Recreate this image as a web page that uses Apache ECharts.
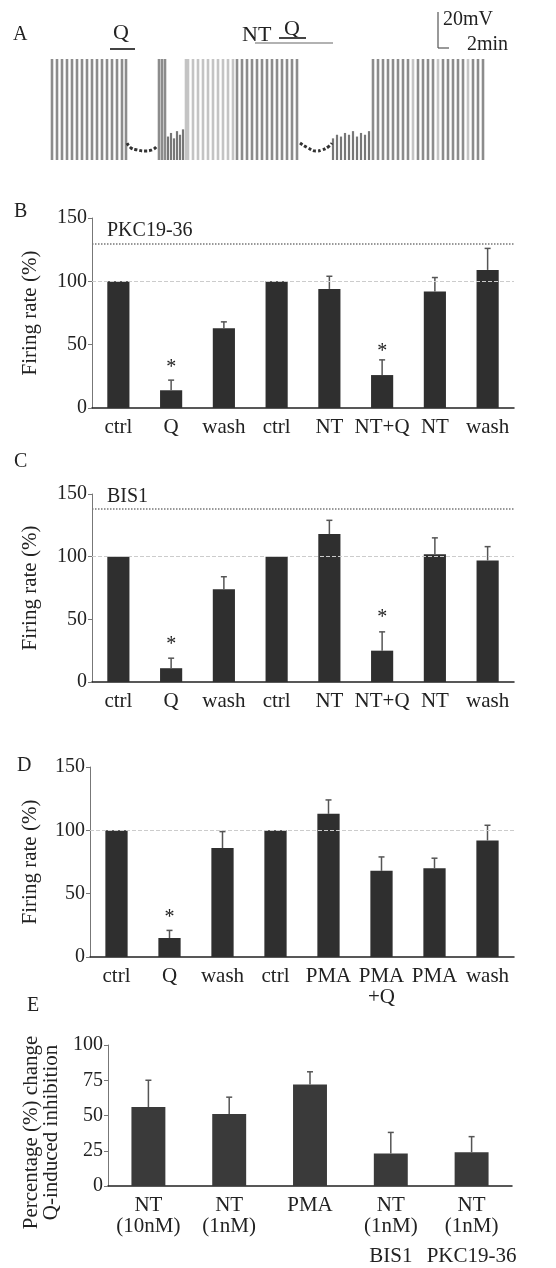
<!DOCTYPE html>
<html>
<head>
<meta charset="utf-8">
<script src="https://cdn.jsdelivr.net/npm/echarts@6/dist/echarts.min.js"></script>
<style>
  html, body { margin: 0; padding: 0; background: #fff; }
  #chart { width: 556px; height: 1268px; }
</style>
</head>
<body>
<div id="chart"></div>
<script>
// ---- panel A: membrane potential trace (time in min, potential in mV) ----
const spikePeak = -4
const spikeTrough = -60
const darkSpikeT = [0.4, 1.4, 2.4, 3.4, 4.4, 5.4, 6.4, 7.4, 8.4, 9.4, 10.4, 11.4, 12.4, 13.4, 14.4, 15.2,
  21.8, 22.4, 23.0,
  37.4, 38.4, 39.4, 40.4, 41.4, 42.4, 43.4, 44.4, 45.4, 46.4, 47.4, 48.4, 49.4,
  64.6, 65.6, 66.6, 67.6, 68.6, 69.6, 70.6, 71.6, 73.6, 74.6, 75.6, 76.6, 78.6, 79.6, 80.6, 81.6, 82.6, 84.6, 85.6, 86.6]
const lightSpikeT = [27.2, 27.6, 28.6, 29.6, 30.6, 31.6, 32.6, 33.6, 34.6, 35.6, 36.6, 72.6, 77.6, 83.6]
const smallSpikeT = [23.6, 24.2, 24.8, 25.4, 26.0, 26.6, 56.6, 57.4, 58.2, 59.0, 59.8, 60.6, 61.4, 62.2, 63.0, 63.8]
const smallSpikeV = [-47, -45, -48, -44, -46, -43, -48, -46, -47, -45, -46, -44, -47, -45, -46, -44]
const hyperT1 = [15.4, 16.2, 17.4, 19.0, 20.4, 21.4]
const hyperV1 = [-50.6, -53.3, -54.4, -55.0, -54.4, -52.2]
const hyperT2 = [50.0, 51.6, 53.2, 54.4, 55.6, 56.4]
const hyperV2 = [-50.6, -53.3, -55.0, -54.4, -52.8, -50.6]

// ---- panels B-D: firing rate (%) ----
const catsB = ['ctrl', 'Q', 'wash', 'ctrl', 'NT', 'NT+Q', 'NT', 'wash']
const valsB = [100, 14, 63, 100, 94, 26, 92, 109]
const errB = [0, 8, 5, 0, 10, 12, 11, 17]
const starsB = [[1, 34], [5, 47]]
const refB = 130

const catsC = ['ctrl', 'Q', 'wash', 'ctrl', 'NT', 'NT+Q', 'NT', 'wash']
const valsC = [100, 11, 74, 100, 118, 25, 102, 97]
const errC = [0, 8, 10, 0, 11, 15, 13, 11]
const starsC = [[1, 32], [5, 54]]
const refC = 138

const catsD = ['ctrl', 'Q', 'wash', 'ctrl', 'PMA', 'PMA\n+Q', 'PMA', 'wash']
const valsD = [100, 15, 86, 100, 113, 68, 70, 92]
const errD = [0, 6, 13, 0, 11, 11, 8, 12]
const starsD = [[1, 33]]

const rateTicks = { min: 0, max: 150, interval: 50 }
const controlLevel = 100

// ---- panel E: % change of Q-induced inhibition ----
const catsE = ['NT\n(10nM)', 'NT\n(1nM)', 'PMA', 'NT\n(1nM)\nBIS1', 'NT\n(1nM)\nPKC19-36']
const valsE = [56, 51, 72, 23, 24]
const errE = [19, 12, 9, 15, 11]
const changeTicks = { min: 0, max: 100, interval: 25 }

const SERIF = '"Liberation Serif", "DejaVu Serif", serif'
const INK = '#222'

const chart = echarts.init(document.getElementById('chart'))

// vertical spike lines from trough to peak
const spikeSeries = (data, color, width) => ({
  type: 'custom',
  xAxisIndex: 0,
  yAxisIndex: 0,
  silent: true,
  data: data,
  renderItem: (params, api) => {
    const p1 = api.coord([api.value(0), spikeTrough])
    const p2 = api.coord([api.value(0), api.value(1)])
    return {
      type: 'line',
      shape: { x1: p1[0], y1: p1[1], x2: p2[0], y2: p2[1] },
      style: { stroke: color, lineWidth: width }
    }
  }
})

const hyperSeries = (ts, vs) => ({
  type: 'line',
  xAxisIndex: 0,
  yAxisIndex: 0,
  silent: true,
  symbol: 'none',
  smooth: true,
  data: ts.map((t, i) => [t, vs[i]]),
  lineStyle: { color: '#333', width: 3, type: [3, 2] }
})

const catAxis = (cats, gi) => ({
  type: 'category',
  gridIndex: gi,
  data: cats,
  axisTick: { show: false },
  axisLine: { lineStyle: { color: INK, width: 1.5 } },
  axisLabel: {
    interval: 0, color: INK, fontFamily: SERIF, fontSize: 21,
    margin: 9, lineHeight: 21,
    // a third label line sits a little lower, as in the figure
    formatter: (v) => {
      const lines = v.split('\n')
      if (lines.length < 3) return v
      return lines[0] + '\n' + lines[1] + '\n{low|' + lines[2] + '}'
    },
    rich: {
      low: { fontFamily: SERIF, fontSize: 21, color: INK, lineHeight: 30, verticalAlign: 'bottom' }
    }
  }
})

const valAxis = (ticks, gi, name, gap, shift) => ({
  type: 'value',
  gridIndex: gi,
  min: ticks.min,
  max: ticks.max,
  interval: ticks.interval,
  splitLine: { show: false },
  axisLine: { show: true, lineStyle: { color: '#777', width: 1 } },
  axisTick: { show: true, length: 4, lineStyle: { color: '#777' } },
  axisLabel: { color: INK, fontFamily: SERIF, fontSize: 20, margin: 5 },
  name: name,
  nameLocation: 'middle',
  nameGap: gap,
  nameTextStyle: {
    color: INK, fontFamily: SERIF, fontSize: 21, lineHeight: 20,
    padding: [0, shift || 0, 0, 0]
  }
})

const barSeries = (vals, gi, color, refLines) => ({
  type: 'bar',
  xAxisIndex: gi,
  yAxisIndex: gi,
  silent: true,
  data: vals,
  barWidth: '42%',
  itemStyle: { color: color },
  markLine: refLines ? {
    silent: true,
    symbol: 'none',
    label: { show: false },
    data: refLines
  } : undefined
})

const errSeries = (vals, errs, gi) => ({
  type: 'custom',
  xAxisIndex: gi,
  yAxisIndex: gi,
  silent: true,
  z: 3,
  data: vals.map((v, i) => [i, v, v + errs[i]]).filter(d => d[2] > d[1]),
  renderItem: (params, api) => {
    const lo = api.coord([api.value(0), api.value(1)])
    const hi = api.coord([api.value(0), api.value(2)])
    const style = { stroke: '#555', lineWidth: 1.5 }
    return {
      type: 'group',
      children: [
        { type: 'line', shape: { x1: lo[0], y1: lo[1], x2: hi[0], y2: hi[1] }, style: style },
        { type: 'line', shape: { x1: hi[0] - 3, y1: hi[1], x2: hi[0] + 3, y2: hi[1] }, style: style }
      ]
    }
  }
})

const starSeries = (stars, gi) => ({
  type: 'custom',
  xAxisIndex: gi,
  yAxisIndex: gi,
  silent: true,
  data: stars,
  renderItem: (params, api) => {
    const p = api.coord([api.value(0), api.value(1)])
    return {
      type: 'text',
      x: p[0], y: p[1] + 3,
      style: {
        text: '*', fill: INK, font: '20px ' + SERIF,
        align: 'center', verticalAlign: 'middle'
      }
    }
  }
})

const refLinesFor = (ref) => [
  { yAxis: ref, lineStyle: { color: '#777', type: 'dotted', width: 1.5 } },
  { yAxis: controlLevel, lineStyle: { color: '#ccc', type: 'dashed', width: 1 } }
]

const txt = (text, x, y, size, align) => ({
  type: 'text', x: x, y: y, silent: true,
  style: {
    text: text, fill: INK, font: (size || 20) + 'px ' + SERIF,
    align: align || 'left', verticalAlign: 'middle'
  }
})
const seg = (x1, y1, x2, y2, color, w) => ({
  type: 'line', silent: true,
  shape: { x1: x1, y1: y1, x2: x2, y2: y2 },
  style: { stroke: color, lineWidth: w }
})

const option = {
  backgroundColor: '#fff',
  animation: false,
  grid: [
    { left: 50, top: 59, width: 433, height: 101 },
    { left: 92, top: 218, width: 422, height: 190 },
    { left: 92, top: 494, width: 422, height: 188 },
    { left: 90, top: 767, width: 424, height: 190 },
    { left: 108, top: 1045, width: 404, height: 141 }
  ],
  xAxis: [
    { type: 'value', gridIndex: 0, min: 0, max: 86.6, show: false },
    catAxis(catsB, 1),
    catAxis(catsC, 2),
    catAxis(catsD, 3),
    catAxis(catsE, 4)
  ],
  yAxis: [
    { type: 'value', gridIndex: 0, min: spikeTrough, max: spikePeak, show: false },
    valAxis(rateTicks, 1, 'Firing rate (%)', 52),
    valAxis(rateTicks, 2, 'Firing rate (%)', 52),
    valAxis(rateTicks, 3, 'Firing rate (%)', 50),
    valAxis(changeTicks, 4, 'Percentage (%) change\nQ-induced inhibition', 43, 34)
  ],
  series: [
    spikeSeries(lightSpikeT.map(t => [t, spikePeak]), '#c4c4c4', 2.6),
    spikeSeries(darkSpikeT.map(t => [t, spikePeak]), '#8c8c8c', 2.6),
    spikeSeries(smallSpikeT.map((t, i) => [t, smallSpikeV[i]]), '#777', 2.2),
    hyperSeries(hyperT1, hyperV1),
    hyperSeries(hyperT2, hyperV2),

    barSeries(valsB, 1, '#2f2f2f', refLinesFor(refB)),
    errSeries(valsB, errB, 1),
    starSeries(starsB, 1),

    barSeries(valsC, 2, '#2f2f2f', refLinesFor(refC)),
    errSeries(valsC, errC, 2),
    starSeries(starsC, 2),

    barSeries(valsD, 3, '#2f2f2f', [{ yAxis: controlLevel, lineStyle: { color: '#ccc', type: 'dashed', width: 1 } }]),
    errSeries(valsD, errD, 3),
    starSeries(starsD, 3),

    barSeries(valsE, 4, '#3a3a3a'),
    errSeries(valsE, errE, 4)
  ],
  graphic: [
    // panel A annotations
    txt('A', 13, 35),
    txt('Q', 121, 33, 22, 'center'),
    seg(110, 49, 135, 49, '#444', 2),
    txt('NT', 242, 35, 22),
    txt('Q', 292, 29, 22, 'center'),
    seg(279, 38, 306, 38, '#444', 2),
    seg(255, 43, 333, 43, '#999', 1.5),
    seg(438, 12, 438, 48, '#555', 1.2),
    seg(438, 48, 449, 48, '#555', 1.2),
    txt('20mV', 443, 20, 20),
    txt('2min', 467, 45, 20),
    // panel letters and inhibitor labels
    txt('B', 14, 212),
    txt('PKC19-36', 107, 231, 20),
    txt('C', 14, 462),
    txt('BIS1', 107, 497, 20),
    txt('D', 17, 766),
    txt('E', 27, 1006)
  ]
}

chart.setOption(option)
</script>
</body>
</html>
